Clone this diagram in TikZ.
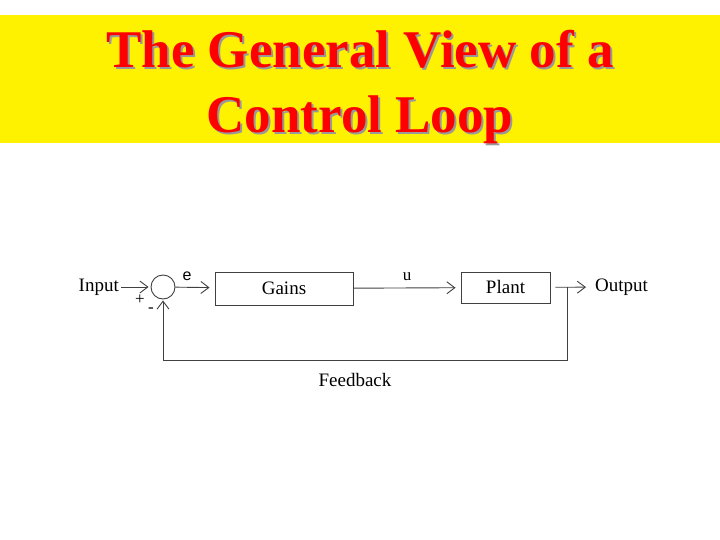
\documentclass[tikz,border=0pt]{standalone}
\usepackage{fontspec}
\setmainfont{Liberation Serif}
\newfontfamily\arialish{Liberation Sans}
\usetikzlibrary{positioning,arrows.meta}
\begin{document}
\begin{tikzpicture}[x=1pt, y=-1pt, >={Straight Barb[length=8pt, width=12pt]},
  block/.style={draw=black!75, line width=0.9pt, inner sep=0pt, font=\fontsize{19}{21}\selectfont},
  junction/.style={draw=black!75, line width=0.9pt, circle, minimum size=24pt, inner sep=0pt},
  signal/.style={font=\fontsize{19}{21}\selectfont, inner sep=2pt},
  link/.style={draw=black!75, line width=0.9pt},
  heading/.style={font=\fontsize{53}{65}\selectfont\bfseries, anchor=base}]
\useasboundingbox (0,0) rectangle (720,540);
% title band
\fill[yellow] (0,15) rectangle (720,143);
\node[heading, text=black!40] (shadow1) at (362,70) {The General View of a};
\node[heading, text=black!40] (shadow2) at (362,135) {Control Loop};
\node[heading, text=red] (title1) at (360,68) {The General View of a};
\node[heading, text=red] (title2) at (360,133) {Control Loop};
% loop
\node[signal, anchor=east] (input) at (121,287) {Input};
\node[junction] (sum) at (163,287) {};
\node[block, minimum width=138pt, minimum height=33pt] (gains) at (284,288.5) {Gains};
\node[block, minimum width=89pt, minimum height=31pt] (plant) at (505.5,287.5) {Plant};
\node[signal, anchor=west] (output) at (593,287) {Output};
\coordinate (tap) at (567,287);
\coordinate (corner) at (567,360);
\node[signal] (fb) at (355,380) {Feedback};
\node[font=\fontsize{17}{18}\selectfont] (plus) at (140,300) {+};
\node[font=\fontsize{17}{18}\selectfont] (minus) at (151,310) {-};
\draw[link, ->, shorten >=2pt] (input) -- (sum);
\draw[link, ->, shorten >=5pt] (sum) -- node[pos=0.3, above=3pt, font=\arialish\fontsize{16}{17}\selectfont] {e} (gains);
\draw[link, ->, shorten >=5pt] (gains) -- node[midway, above=3pt, font=\fontsize{17}{18}\selectfont] {u} (plant);
\draw[link, ->, shorten <=5pt, shorten >=7pt] (plant) -- (output);
\draw[link, ->, shorten >=1pt] (tap) -- (corner) -| (sum);
\end{tikzpicture}
\end{document}
